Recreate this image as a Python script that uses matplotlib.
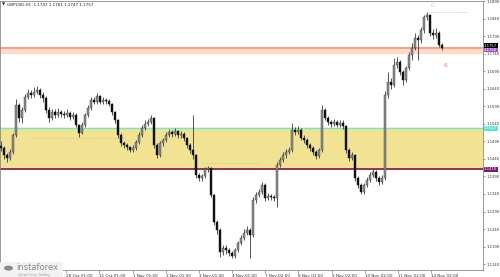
import numpy as np
import matplotlib
matplotlib.use("Agg")
import matplotlib.pyplot as plt

# GBPUSD H1 - bars (one bar per ~3px column)
closes = [1.1471, 1.1451, 1.1443, 1.1460, 1.1509, 1.1594, 1.1557, 1.1580, 1.1617, 1.1629,
          1.1623, 1.1631, 1.1637, 1.1623, 1.1614, 1.1580, 1.1557, 1.1574, 1.1566, 1.1574,
          1.1569, 1.1566, 1.1571, 1.1560, 1.1566, 1.1537, 1.1514, 1.1537, 1.1566, 1.1586,
          1.1609, 1.1603, 1.1620, 1.1603, 1.1609, 1.1606, 1.1597, 1.1574, 1.1551, 1.1509,
          1.1486, 1.1480, 1.1474, 1.1466, 1.1471, 1.1489, 1.1509, 1.1529, 1.1540, 1.1546,
          1.1557, 1.1480, 1.1451, 1.1486, 1.1494, 1.1509, 1.1517, 1.1511, 1.1520, 1.1509,
          1.1511, 1.1500, 1.1480, 1.1466, 1.1451, 1.1394, 1.1386, 1.1391, 1.1411, 1.1414,
          1.1337, 1.1260, 1.1237, 1.1174, 1.1186, 1.1180, 1.1171, 1.1163, 1.1180, 1.1200,
          1.1214, 1.1229, 1.1237, 1.1223, 1.1323, 1.1337, 1.1346, 1.1366, 1.1329, 1.1334,
          1.1331, 1.1329, 1.1423, 1.1437, 1.1451, 1.1460, 1.1466, 1.1523, 1.1517, 1.1523,
          1.1500, 1.1494, 1.1480, 1.1471, 1.1460, 1.1449, 1.1466, 1.1580, 1.1557, 1.1546,
          1.1540, 1.1546, 1.1537, 1.1543, 1.1534, 1.1466, 1.1443, 1.1451, 1.1386, 1.1366,
          1.1346, 1.1366, 1.1380, 1.1394, 1.1403, 1.1386, 1.1374, 1.1386, 1.1623, 1.1660,
          1.1651, 1.1709, 1.1717, 1.1689, 1.1666, 1.1700, 1.1737, 1.1757, 1.1786, 1.1780,
          1.1809, 1.1846, 1.1851, 1.1800, 1.1794, 1.1800, 1.1766, 1.1757]
highs = [1.1490, 1.1476, 1.1458, 1.1468, 1.1515, 1.1612, 1.1600, 1.1589, 1.1626, 1.1640,
         1.1637, 1.1646, 1.1649, 1.1643, 1.1630, 1.1620, 1.1588, 1.1583, 1.1582, 1.1586,
         1.1580, 1.1578, 1.1583, 1.1577, 1.1574, 1.1570, 1.1540, 1.1545, 1.1572, 1.1593,
         1.1616, 1.1618, 1.1628, 1.1624, 1.1617, 1.1615, 1.1611, 1.1601, 1.1578, 1.1555,
         1.1514, 1.1492, 1.1486, 1.1478, 1.1480, 1.1495, 1.1516, 1.1537, 1.1551, 1.1555,
         1.1566, 1.1560, 1.1486, 1.1492, 1.1500, 1.1516, 1.1526, 1.1524, 1.1529, 1.1524,
         1.1520, 1.1516, 1.1504, 1.1486, 1.1566, 1.1455, 1.1400, 1.1398, 1.1416, 1.1420,
         1.1418, 1.1340, 1.1266, 1.1242, 1.1195, 1.1194, 1.1186, 1.1177, 1.1186, 1.1206,
         1.1222, 1.1240, 1.1248, 1.1243, 1.1330, 1.1346, 1.1355, 1.1374, 1.1370, 1.1342,
         1.1340, 1.1338, 1.1430, 1.1446, 1.1460, 1.1469, 1.1475, 1.1543, 1.1532, 1.1533,
         1.1528, 1.1507, 1.1499, 1.1487, 1.1476, 1.1465, 1.1472, 1.1594, 1.1586, 1.1563,
         1.1552, 1.1554, 1.1552, 1.1551, 1.1550, 1.1538, 1.1472, 1.1460, 1.1455, 1.1391,
         1.1372, 1.1372, 1.1388, 1.1402, 1.1412, 1.1408, 1.1391, 1.1394, 1.1634, 1.1689,
         1.1672, 1.1727, 1.1732, 1.1722, 1.1694, 1.1706, 1.1746, 1.1770, 1.1800, 1.1795,
         1.1818, 1.1852, 1.1860, 1.1855, 1.1812, 1.1814, 1.1805, 1.1772]
lows = [1.1462, 1.1440, 1.1432, 1.1438, 1.1455, 1.1503, 1.1546, 1.1543, 1.1575, 1.1610,
        1.1615, 1.1617, 1.1625, 1.1615, 1.1603, 1.1572, 1.1545, 1.1550, 1.1558, 1.1560,
        1.1560, 1.1557, 1.1560, 1.1552, 1.1553, 1.1530, 1.1504, 1.1510, 1.1532, 1.1560,
        1.1580, 1.1596, 1.1598, 1.1597, 1.1598, 1.1598, 1.1590, 1.1566, 1.1543, 1.1500,
        1.1478, 1.1472, 1.1466, 1.1460, 1.1461, 1.1466, 1.1484, 1.1503, 1.1522, 1.1533,
        1.1540, 1.1472, 1.1443, 1.1447, 1.1478, 1.1489, 1.1503, 1.1503, 1.1505, 1.1500,
        1.1500, 1.1492, 1.1472, 1.1458, 1.1440, 1.1386, 1.1377, 1.1378, 1.1386, 1.1403,
        1.1330, 1.1252, 1.1226, 1.1160, 1.1166, 1.1170, 1.1163, 1.1156, 1.1158, 1.1175,
        1.1194, 1.1208, 1.1222, 1.1157, 1.1218, 1.1314, 1.1330, 1.1340, 1.1320, 1.1322,
        1.1323, 1.1320, 1.1303, 1.1416, 1.1430, 1.1443, 1.1454, 1.1460, 1.1508, 1.1510,
        1.1493, 1.1486, 1.1472, 1.1463, 1.1452, 1.1440, 1.1443, 1.1460, 1.1550, 1.1538,
        1.1532, 1.1534, 1.1530, 1.1531, 1.1526, 1.1457, 1.1434, 1.1437, 1.1378, 1.1357,
        1.1340, 1.1341, 1.1360, 1.1374, 1.1388, 1.1378, 1.1366, 1.1368, 1.1380, 1.1615,
        1.1640, 1.1645, 1.1700, 1.1680, 1.1651, 1.1660, 1.1694, 1.1723, 1.1750, 1.1723,
        1.1772, 1.1800, 1.1836, 1.1792, 1.1783, 1.1786, 1.1760, 1.1750]
first_open = 1.1478

price_ticks = [1.1140, 1.1190, 1.1240, 1.1290, 1.1340, 1.1390, 1.1440, 1.1490,
               1.1540, 1.1590, 1.1640, 1.1690, 1.1740, 1.1790, 1.1840, 1.1890]
time_ticks = [21.7, 32.7, 44.0, 55.0, 66.0, 77.0, 88.0, 99.0, 110.3, 121.3, 132.3, 143.3]
time_labels = ['28 Oct 01:00', '31 Oct 01:00', '1 Nov 01:00', '2 Nov 01:00', '3 Nov 01:00',
               '4 Nov 01:00', '7 Nov 02:00', '8 Nov 02:00', '9 Nov 02:00', '10 Nov 02:00',
               '11 Nov 02:00', '14 Nov 02:00']

resistance_top = 1.1760
resistance_line = 1.1757
resistance_low = 1.1743
zone_top = 1.1527
zone_bottom = 1.1410
peak_level = 1.1860

closes = np.array(closes)
highs = np.array(highs)
lows = np.array(lows)
opens = np.concatenate([[first_open], closes[:-1]])
idx = np.arange(len(closes))

fig = plt.figure(figsize=(5.0, 2.77), dpi=100)
ax = fig.add_axes([0.0, 7 / 277, 483 / 500, 269 / 277])

# zones / levels
ax.axhspan(zone_bottom, zone_top, color='#f2e394', zorder=0)
ax.axhline(zone_top, color='#74e6cf', lw=1.0, zorder=1)
ax.axhline(zone_bottom, color='#7b1a4e', lw=1.2, zorder=1)
ax.axhspan(resistance_low, resistance_top, color='#fcdcc8', zorder=0)
ax.axhline(resistance_line, color='#e79c88', lw=1.2, zorder=1)

# faint dotted marks
ax.hlines(1.1500, 10.7, 41.3, colors='#c9c39a', lw=0.5, linestyles=(0, (2, 2)), zorder=1)
ax.hlines(1.1429, 67.3, 86.0, colors='#c9c39a', lw=0.5, linestyles=(0, (2, 2)), zorder=1)
ax.hlines(peak_level, 142.3, 155.7, colors='#c8c8c8', lw=0.6, linestyles=(0, (1.5, 1.5)), zorder=1)

# candles
up = closes >= opens
ax.vlines(idx, lows, highs, color='#3a3a3a', lw=0.6, zorder=2)
body_lo = np.minimum(opens, closes)
body_h = np.maximum(np.abs(closes - opens), 0.00012)
ax.bar(idx[up], body_h[up], bottom=body_lo[up], width=0.55, color='#8e8e8e',
       edgecolor='#3a3a3a', linewidth=0.3, zorder=3)
ax.bar(idx[~up], body_h[~up], bottom=body_lo[~up], width=0.55, color='#111111',
       edgecolor='#111111', linewidth=0.3, zorder=3)

ax.text(143.7, 1.1877, '0', color='#d6cf98', fontsize=4.5, ha='center', va='center')
ax.text(148.3, 1.1706, '6', color='#e0897a', fontsize=4.5, ha='center', va='center')

ax.set_xlim(-1 / 3, 482 / 3)
ax.set_ylim(1.1123, 1.1891)

ax.yaxis.tick_right()
ax.set_yticks(price_ticks)
ax.set_yticklabels(['%.4f' % p for p in price_ticks], fontsize=2.7, color='#333333')
ax.tick_params(axis='y', length=1.5, width=0.4, pad=1.0, colors='#555555', labelcolor='#333333')
ax.set_xticks(time_ticks)
ax.set_xticklabels(time_labels, fontsize=3.0, color='#333333', ha='left')
ax.tick_params(axis='x', length=2, width=0.4, pad=1.0, colors='#555555', labelcolor='#333333')

for s in ax.spines.values():
    s.set_color('#8a8a8a')
    s.set_linewidth(0.6)

# price labels on the right scale
def price_tag(y, text, bg, fg='white'):
    ax.text(1.002, y, text, transform=ax.get_yaxis_transform(), fontsize=2.7, color=fg,
            ha='left', va='center', zorder=5,
            bbox=dict(boxstyle='square,pad=0.12', fc=bg, ec='none'))

price_tag(1.1763, '1.1757', '#000000')
price_tag(1.1751, '1.1750', '#a658c8')
price_tag(zone_top, '%.4f' % zone_top, '#5fe3d6')
price_tag(zone_bottom, '%.4f' % zone_bottom, '#7b1a6e')

# header
fig.text(0.004, 0.982, '\u25bc', fontsize=3.0, color='#222222', va='center')
fig.text(0.014, 0.982, 'GBPUSD,H1  1.1747 1.1761 1.1747 1.1757', fontsize=3.0,
         color='#222222', va='center')

# instaforex logo
fig.patches.append(matplotlib.patches.Rectangle((0.0, 0.0), 0.125, 0.055,
                   transform=fig.transFigure, fc='#f2f2f2', ec='none', zorder=4))
fig.patches.append(matplotlib.patches.Circle((0.017, 0.032), 0.009,
                   transform=fig.transFigure, fc='#8a8a8a', ec='none', zorder=5))
fig.text(0.033, 0.035, 'instaforex', fontsize=6.0, color='#8a8a8a', va='center', zorder=6)
fig.text(0.035, 0.009, 'Instant Forex Trading', fontsize=2.2, color='#9a9a9a', va='center', zorder=6)

fig.savefig('out.png', dpi=100, facecolor='white')
